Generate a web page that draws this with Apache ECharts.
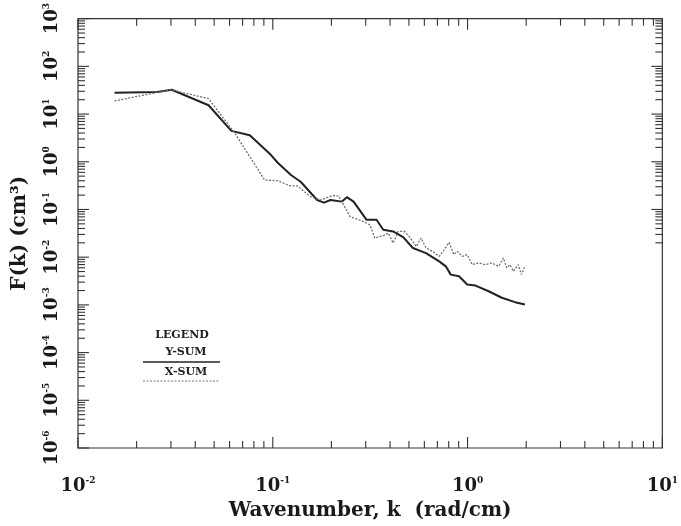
<!DOCTYPE html>
<html>
<head>
<meta charset="utf-8">
<script src="https://cdn.jsdelivr.net/npm/echarts@6/dist/echarts.min.js"></script>
<style>
html, body { margin: 0; padding: 0; background: #fff; }
#chart { width: 681px; height: 526px; }
</style>
</head>
<body>
<div id="chart"></div>
<script>
// Y-SUM (solid)
var ySumK = [0.0154, 0.0255, 0.0303, 0.0468, 0.0613, 0.0762, 0.098, 0.106, 0.124, 0.139,
    0.169, 0.183, 0.198, 0.226, 0.240, 0.260, 0.303, 0.341, 0.369, 0.415,
    0.467, 0.524, 0.612, 0.715, 0.773, 0.820, 0.904, 0.995, 1.099, 1.282,
    1.50, 1.753, 1.97];
var ySumF = [28.1, 28.9, 32.4, 15.3, 4.44, 3.61, 1.38, 0.953, 0.527, 0.382,
    0.158, 0.139, 0.158, 0.146, 0.181, 0.146, 0.0607, 0.0607, 0.0375, 0.0346,
    0.0264, 0.0156, 0.0122, 0.00817, 0.00643, 0.00431, 0.00397, 0.00267, 0.00254, 0.00193,
    0.00141, 0.00114, 0.00102];

// X-SUM (dotted)
var xSumK = [0.0154, 0.0299, 0.0468, 0.064, 0.0908, 0.106, 0.122, 0.134, 0.156, 0.176,
    0.202, 0.218, 0.231, 0.249, 0.292, 0.315, 0.334, 0.369, 0.391, 0.415,
    0.440, 0.475, 0.504, 0.545, 0.577, 0.612, 0.662, 0.715, 0.759, 0.804,
    0.851, 0.887, 0.940, 0.995, 1.057, 1.14, 1.233, 1.334, 1.442, 1.528,
    1.589, 1.652, 1.718, 1.82, 1.892, 1.97];
var xSumF = [18.8, 32.4, 21.1, 3.92, 0.415, 0.401, 0.316, 0.31, 0.186, 0.158,
    0.195, 0.192, 0.125, 0.0711, 0.0559, 0.0477, 0.0252, 0.0281, 0.0320, 0.0198,
    0.0346, 0.0346, 0.0264, 0.0168, 0.0252, 0.0156, 0.0132, 0.0104, 0.0144, 0.0204,
    0.0113, 0.0132, 0.0104, 0.0113, 0.00697, 0.00757, 0.00697, 0.00757, 0.00643, 0.00962,
    0.00596, 0.00697, 0.00506, 0.00697, 0.00431, 0.00643];

// axis decades and tick mantissas
var xDecades = [-2, -1, 0];
var yDecades = [-6, -5, -4, -3, -2, -1, 0, 1, 2];
var mantissas = [1, 2, 3, 4, 5, 6, 7, 8, 9];
var rightTickFrom = 0.02;

function tickValues(decades, last) {
    var out = [];
    decades.forEach(function (d) {
        mantissas.forEach(function (m) {
            out.push(+(m * Math.pow(10, d)).toPrecision(6));
        });
    });
    out.push(last);
    return out;
}
var xTicks = tickValues(xDecades, 10);
var yTicks = tickValues(yDecades, 1000);
var rightTicks = yTicks.filter(function (v) { return v >= rightTickFrom - 1e-12; });

function zip(a, b) {
    return a.map(function (v, i) { return [v, b[i]]; });
}

function supLabel(v) {
    var e = Math.round(Math.log10(v));
    return '{b|10}{s|' + e + '}';
}

var labelRich = {
    b: { fontFamily: 'DejaVu Serif', fontWeight: 'bold', fontSize: 18, color: '#1a1a1a' },
    s: { fontFamily: 'DejaVu Serif', fontWeight: 'bold', fontSize: 9, color: '#1a1a1a', padding: [0, 0, 11, 0] }
};

function tickSeries(data, dirX, dirY, valDim) {
    return {
        type: 'custom',
        silent: true,
        clip: false,
        data: data,
        renderItem: function (params, api) {
            var p = api.coord([api.value(0), api.value(1)]);
            var lg = Math.log10(api.value(valDim));
            var len = Math.abs(lg - Math.round(lg)) < 1e-6 ? 11 : 7;
            return {
                type: 'line',
                shape: { x1: p[0], y1: p[1], x2: p[0] + dirX * len, y2: p[1] + dirY * len },
                style: { stroke: '#333', lineWidth: 1.1 }
            };
        }
    };
}

var chart = echarts.init(document.getElementById('chart'));
chart.setOption({
    animation: false,
    backgroundColor: '#fff',
    grid: {
        left: 78, right: 12, top: 18, bottom: 77,
        show: true, borderColor: '#333', borderWidth: 1.2
    },
    xAxis: {
        type: 'log', logBase: 10, min: 0.01, max: 10,
        axisLine: { show: false }, axisTick: { show: false },
        splitLine: { show: false }, minorTick: { show: false },
        axisLabel: { formatter: supLabel, rich: labelRich, margin: 28 },
        name: 'Wavenumber, k  (rad/cm)',
        nameLocation: 'middle', nameGap: 53,
        nameTextStyle: { fontFamily: 'DejaVu Serif', fontWeight: 'bold', fontSize: 20, color: '#1a1a1a' }
    },
    yAxis: {
        type: 'log', logBase: 10, min: 1e-6, max: 1000,
        axisLine: { show: false }, axisTick: { show: false },
        splitLine: { show: false }, minorTick: { show: false },
        axisLabel: { formatter: supLabel, rich: labelRich, rotate: 90, margin: 16 },
        name: 'F(k) (cm³)',
        nameLocation: 'middle', nameGap: 48, nameRotate: 90,
        nameTextStyle: { fontFamily: 'DejaVu Serif', fontWeight: 'bold', fontSize: 20, color: '#1a1a1a' }
    },
    series: [
        {
            name: 'Y-SUM', type: 'line', showSymbol: false,
            data: zip(ySumK, ySumF),
            lineStyle: { color: '#222', width: 2 }
        },
        {
            name: 'X-SUM', type: 'line', showSymbol: false,
            data: zip(xSumK, xSumF),
            lineStyle: { color: '#6e6e6e', width: 1.3, type: [2, 1.5] }
        },
        tickSeries(xTicks.map(function (v) { return [v, 1e-6]; }), 0, -1, 0),
        tickSeries(xTicks.map(function (v) { return [v, 1000]; }), 0, 1, 0),
        tickSeries(yTicks.map(function (v) { return [0.01, v]; }), 1, 0, 1),
        tickSeries(rightTicks.map(function (v) { return [10, v]; }), -1, 0, 1)
    ],
    graphic: [
        { type: 'text', x: 182, y: 335, style: { text: 'LEGEND', font: 'bold 11px "DejaVu Serif"', align: 'center', verticalAlign: 'middle', fill: '#222' } },
        { type: 'text', x: 186, y: 352, style: { text: 'Y-SUM', font: 'bold 11px "DejaVu Serif"', align: 'center', verticalAlign: 'middle', fill: '#222' } },
        { type: 'line', shape: { x1: 143, y1: 362, x2: 220, y2: 362 }, style: { stroke: '#222', lineWidth: 1.5 } },
        { type: 'text', x: 186, y: 372, style: { text: 'X-SUM', font: 'bold 11px "DejaVu Serif"', align: 'center', verticalAlign: 'middle', fill: '#222' } },
        { type: 'line', shape: { x1: 143, y1: 381, x2: 220, y2: 381 }, style: { stroke: '#777', lineWidth: 1.2, lineDash: [2, 1.5] } }
    ]
});
</script>
</body>
</html>
